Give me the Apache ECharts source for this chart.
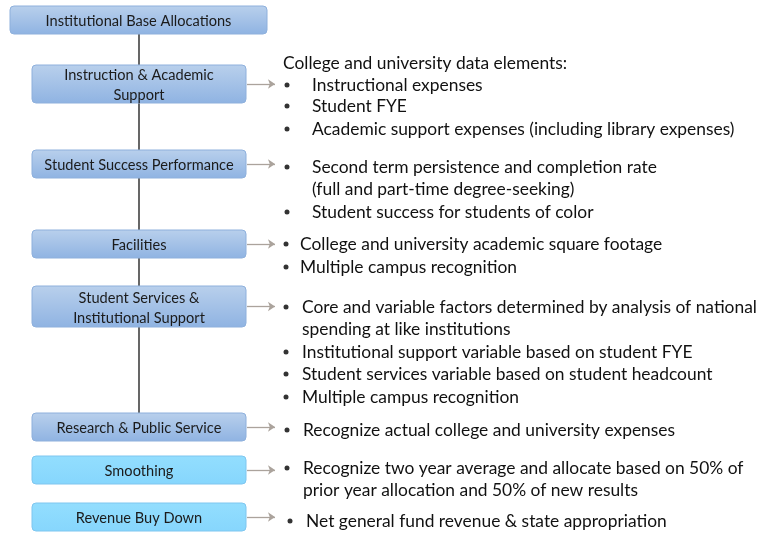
<!DOCTYPE html>
<html>
<head>
  <meta charset="UTF-8">
  <title>Base Allocations</title>
  <script src="https://cdn.jsdelivr.net/npm/echarts@6/dist/echarts.min.js"></script>
  <style>
    html, body { margin: 0; padding: 0; background: #fff; }
    #main { width: 759px; height: 534px; }
  </style>
</head>
<body>
  <div id="main"></div>
  <script>
    // boxes on the left, top to bottom
    var boxLabels = ['Institutional Base Allocations', 'Instruction & Academic\nSupport',
      'Student Success Performance', 'Facilities', 'Student Services &\nInstitutional Support',
      'Research & Public Service', 'Smoothing', 'Revenue Buy Down'];
    var boxTop = [6, 65, 150, 230, 286, 413, 456, 503];
    var boxBottom = [34, 103, 178, 258, 327, 441, 484, 531];
    var boxKind = ['blue', 'blue', 'blue', 'blue', 'blue', 'blue', 'cyan', 'cyan'];

    // notes on the right
    var noteText = ['College and university data elements:', 'Instructional expenses', 'Student FYE',
      'Academic support expenses (including library expenses)',
      'Second term persistence and completion rate', '(full and part-time degree-seeking)',
      'Student success for students of color',
      'College and university academic square footage', 'Multiple campus recognition',
      'Core and variable factors determined by analysis of national', 'spending at like institutions',
      'Institutional support variable based on student FYE',
      'Student services variable based on student headcount', 'Multiple campus recognition',
      'Recognize actual college and university expenses',
      'Recognize two year average and allocate based on 50% of',
      'prior year allocation and 50% of new results',
      'Net general fund revenue & state appropriation'];
    var noteRow = [63, 85, 106, 129, 167, 189, 212, 244, 267, 307, 329, 352, 374, 397, 430, 468, 490, 521];
    var noteIndent = [283, 312, 312, 312, 312, 312, 312, 300, 300, 302, 302, 302, 302, 302, 303, 303, 303, 306];
    var noteBullet = [0, 1, 1, 1, 1, 0, 1, 1, 1, 1, 0, 1, 1, 1, 1, 1, 0, 1];
    var bulletX = [0, 287, 287, 287, 287, 0, 287, 286, 286, 286, 0, 286, 286, 286, 287, 287, 0, 290];

    var chart = echarts.init(document.getElementById('main'), null, {renderer: 'canvas'});

    var boxData = boxLabels.map(function (t, i) {
      var x0 = i === 0 ? 10 : 32, x1 = i === 0 ? 267 : 246;
      return [x0, boxTop[i], x1, boxBottom[i], t, boxKind[i]];
    });
    var arrowData = [];
    for (var i = 1; i < boxLabels.length; i++) {
      var yc = (boxTop[i] + boxBottom[i]) / 2;
      arrowData.push({coords: [[247, yc], [275, yc]]});
    }
    var bullets = [];
    noteText.forEach(function (t, i) {
      if (noteBullet[i]) bullets.push([bulletX[i], noteRow[i]]);
    });
    var noteData = noteText.map(function (t, i) { return [noteIndent[i], noteRow[i], t]; });

    var fills = {
      blue: new echarts.graphic.LinearGradient(0, 0, 0, 1, [
        {offset: 0, color: '#b9d0ec'}, {offset: 1, color: '#8fb3e2'}]),
      cyan: new echarts.graphic.LinearGradient(0, 0, 0, 1, [
        {offset: 0, color: '#93defe'}, {offset: 1, color: '#86d6fd'}])
    };
    var strokes = {blue: '#8eb0dc', cyan: '#7fc6ef'};

    chart.setOption({
      animation: false,
      grid: {left: 0, right: 0, top: 0, bottom: 0},
      xAxis: {type: 'value', min: 0, max: 759, show: false},
      yAxis: {type: 'value', min: 0, max: 534, inverse: true, show: false},
      series: [
        {
          type: 'line', z: 1, symbol: 'none',
          lineStyle: {color: '#000', width: 1.2},
          data: [[139, boxBottom[0]], [139, boxTop[5]]]
        },
        {
          type: 'lines', coordinateSystem: 'cartesian2d', z: 2,
          symbol: ['none', 'arrow'], symbolSize: 7,
          lineStyle: {color: '#ab a39c'.replace(' ', ''), width: 1.3, opacity: 1},
          data: arrowData
        },
        {
          type: 'custom', z: 3,
          renderItem: function (params, api) {
            var p0 = api.coord([api.value(0), api.value(1)]);
            var p1 = api.coord([api.value(2), api.value(3)]);
            var kind = boxData[params.dataIndex][5];
            return {
              type: 'rect',
              shape: {x: p0[0], y: p0[1], width: p1[0] - p0[0], height: p1[1] - p0[1], r: 4},
              style: {fill: fills[kind], stroke: strokes[kind], lineWidth: 1},
              textContent: {
                style: {
                  text: boxData[params.dataIndex][4], fill: '#1b1b1b',
                  font: '14.6px Lato', align: 'center', lineHeight: 20
                }
              },
              textConfig: {position: 'inside', offset: [0, 1.5]}
            };
          },
          data: boxData
        },
        {
          type: 'scatter', z: 4, symbol: 'circle', symbolSize: 5,
          itemStyle: {color: '#000'},
          data: bullets
        },
        {
          type: 'custom', z: 4,
          renderItem: function (params, api) {
            var p = api.coord([api.value(0), api.value(1)]);
            return {
              type: 'text',
              style: {
                x: p[0], y: p[1], text: noteData[params.dataIndex][2],
                fill: '#111', font: '17.4px Lato', verticalAlign: 'middle', align: 'left'
              }
            };
          },
          data: noteData
        }
      ]
    });
  </script>
</body>
</html>
